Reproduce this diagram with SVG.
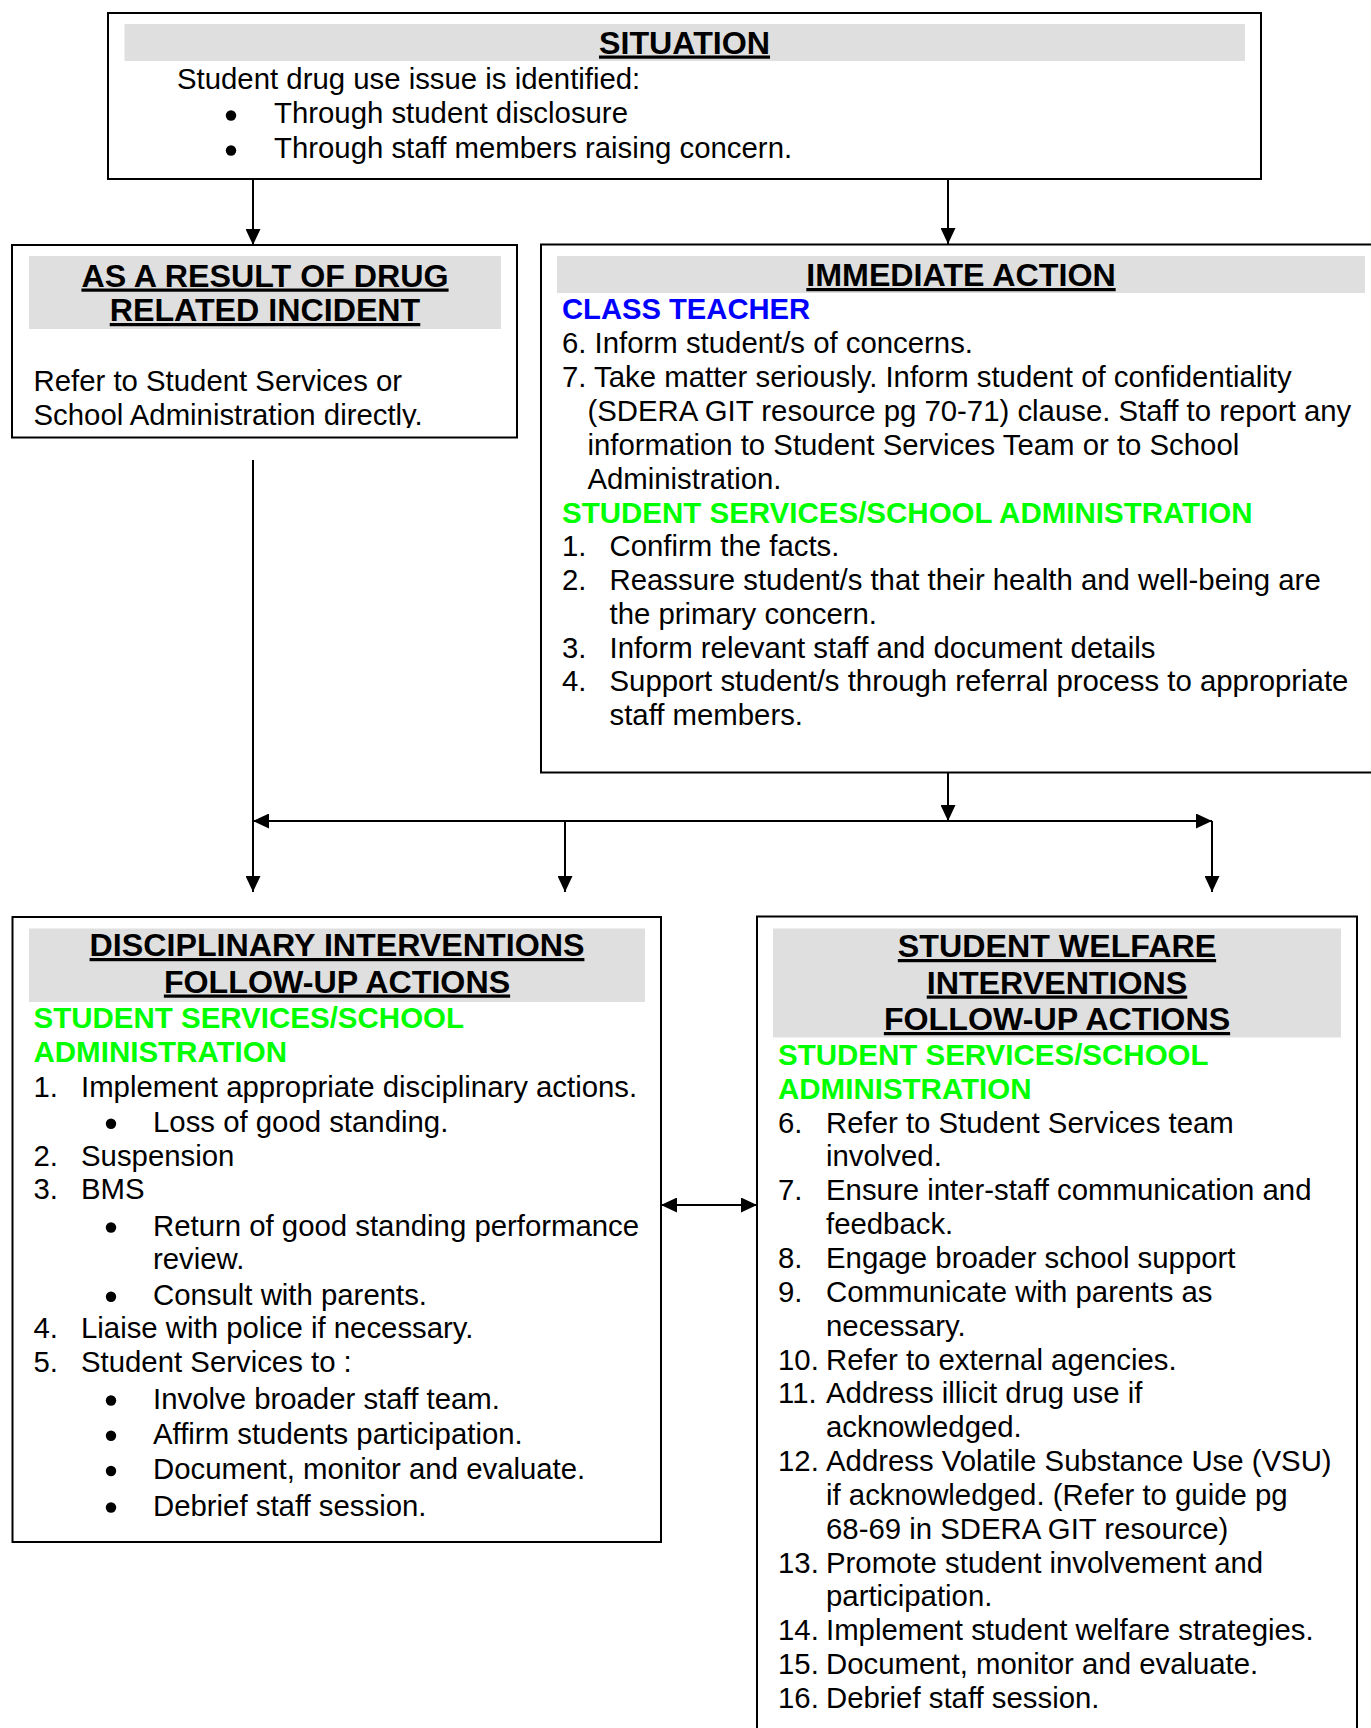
<svg xmlns="http://www.w3.org/2000/svg" width="1371" height="1728" viewBox="0 0 1371 1728">
<style>
.box{fill:#fff;stroke:#000;stroke-width:2}
.bar{fill:#DFDFDF}
text{font-family:"Liberation Sans",Arial,Helvetica,sans-serif;font-size:29.35px;fill:#000}
.h{font-weight:bold;font-size:32.2px;text-anchor:middle;text-decoration:underline}
.g{font-weight:bold;font-size:29.5px;fill:#00FF00}
.bl{font-weight:bold;font-size:29.2px;fill:#0000FF}
.dot{fill:#000}
.conn{stroke:#000;stroke-width:2;fill:none}
</style>
<defs>
<marker id="ah" markerUnits="userSpaceOnUse" markerWidth="16" markerHeight="15" refX="16" refY="7.5" orient="auto-start-reverse">
<path d="M0,0 L16,7.5 L0,15 z" fill="#000"/>
</marker>
<clipPath id="clipA"><rect x="12" y="244" width="505" height="184"/></clipPath>
</defs>
<rect width="1371" height="1728" fill="#fff"/>

<g id="connectors">
<path class="conn" d="M253,172 V245" marker-end="url(#ah)"/>
<path class="conn" d="M948,172 V244" marker-end="url(#ah)"/>
<path class="conn" d="M948,773 V821" marker-end="url(#ah)"/>
<path class="conn" d="M948,821 H253" marker-end="url(#ah)"/>
<path class="conn" d="M948,821 H1212" marker-end="url(#ah)"/>
<path class="conn" d="M1212,821 V892" marker-end="url(#ah)"/>
<path class="conn" d="M565,821 V892" marker-end="url(#ah)"/>
<path class="conn" d="M253,460 V892" marker-end="url(#ah)"/>
<path class="conn" d="M661,1205 H757" marker-start="url(#ah)" marker-end="url(#ah)"/>
</g>

<g id="situation">
<rect class="box" x="108" y="13" width="1153" height="166"/>
<rect class="bar" x="124.5" y="24" width="1120.5" height="37"/>
<text class="h" x="684.5" y="53.5">SITUATION</text>
<text x="177" y="88.5">Student drug use issue is identified:</text>
<circle class="dot" cx="231" cy="115.5" r="5.2"/>
<text x="274" y="123">Through student disclosure</text>
<circle class="dot" cx="231" cy="150.5" r="5.2"/>
<text x="274" y="158">Through staff members raising concern.</text>
</g>

<g id="drug-incident">
<rect class="box" x="12" y="245" width="505" height="192.5"/>
<rect class="bar" x="29" y="256" width="472" height="73"/>
<text class="h" x="265" y="286.5">AS A RESULT OF DRUG</text>
<text class="h" x="265" y="321">RELATED INCIDENT</text>
<g clip-path="url(#clipA)">
<text x="33.5" y="390.5">Refer to Student Services or</text>
<text x="33.5" y="424.5">School Administration directly.</text>
</g>
</g>

<g id="immediate-action">
<rect class="box" x="541" y="244.5" width="850" height="528"/>
<rect class="bar" x="557" y="256" width="808" height="37"/>
<text class="h" x="961" y="286">IMMEDIATE ACTION</text>
<text class="bl" x="562" y="318.5">CLASS TEACHER</text>
<text x="562" y="353">6. Inform student/s of concerns.</text>
<text x="562" y="387">7. Take matter seriously. Inform student of confidentiality</text>
<text x="587.4" y="421">(SDERA GIT resource pg 70-71) clause. Staff to report any</text>
<text x="587.4" y="455">information to Student Services Team or to School</text>
<text x="587.4" y="489">Administration.</text>
<text class="g" x="562" y="522.7">STUDENT SERVICES/SCHOOL ADMINISTRATION</text>
<text y="556.4"><tspan x="562">1.</tspan><tspan x="609.5">Confirm the facts.</tspan></text>
<text y="590.1"><tspan x="562">2.</tspan><tspan x="609.5">Reassure student/s that their health and well-being are</tspan></text>
<text x="609.5" y="623.8">the primary concern.</text>
<text y="657.5"><tspan x="562">3.</tspan><tspan x="609.5">Inform relevant staff and document details</tspan></text>
<text y="691.2"><tspan x="562">4.</tspan><tspan x="609.5">Support student/s through referral process to appropriate</tspan></text>
<text x="609.5" y="724.9">staff members.</text>
</g>

<g id="disciplinary">
<rect class="box" x="12.5" y="917" width="648.5" height="625"/>
<rect class="bar" x="29" y="928.5" width="616" height="73.5"/>
<text class="h" x="337" y="956">DISCIPLINARY INTERVENTIONS</text>
<text class="h" x="337" y="992.5">FOLLOW-UP ACTIONS</text>
<text class="g" x="33.5" y="1028">STUDENT SERVICES/SCHOOL</text>
<text class="g" x="33.5" y="1061.5">ADMINISTRATION</text>
<text y="1096.5"><tspan x="33.5">1.</tspan><tspan x="81">Implement appropriate disciplinary actions.</tspan></text>
<circle class="dot" cx="111" cy="1123.8" r="5.2"/>
<text x="153" y="1131.8">Loss of good standing.</text>
<text y="1165.8"><tspan x="33.5">2.</tspan><tspan x="81">Suspension</tspan></text>
<text y="1198.8"><tspan x="33.5">3.</tspan><tspan x="81">BMS</tspan></text>
<circle class="dot" cx="111" cy="1227.5" r="5.2"/>
<text x="153" y="1235.5">Return of good standing performance</text>
<text x="153" y="1268.5">review.</text>
<circle class="dot" cx="111" cy="1296.8" r="5.2"/>
<text x="153" y="1304.8">Consult with parents.</text>
<text y="1338"><tspan x="33.5">4.</tspan><tspan x="81">Liaise with police if necessary.</tspan></text>
<text y="1372"><tspan x="33.5">5.</tspan><tspan x="81">Student Services to :</tspan></text>
<circle class="dot" cx="111" cy="1400.5" r="5.2"/>
<text x="153" y="1408.5">Involve broader staff team.</text>
<circle class="dot" cx="111" cy="1435.8" r="5.2"/>
<text x="153" y="1443.8">Affirm students participation.</text>
<circle class="dot" cx="111" cy="1471" r="5.2"/>
<text x="153" y="1479">Document, monitor and evaluate.</text>
<circle class="dot" cx="111" cy="1507.5" r="5.2"/>
<text x="153" y="1515.5">Debrief staff session.</text>
</g>

<g id="welfare">
<rect class="box" x="757" y="916.5" width="600" height="830"/>
<rect class="bar" x="773" y="928.5" width="568" height="109"/>
<text class="h" x="1057" y="957">STUDENT WELFARE</text>
<text class="h" x="1057" y="993.5">INTERVENTIONS</text>
<text class="h" x="1057" y="1030">FOLLOW-UP ACTIONS</text>
<text class="g" x="778" y="1065">STUDENT SERVICES/SCHOOL</text>
<text class="g" x="778" y="1098.5">ADMINISTRATION</text>
<text y="1132.5"><tspan x="778">6.</tspan><tspan x="826">Refer to Student Services team</tspan></text>
<text x="826" y="1166.4">involved.</text>
<text y="1200.2"><tspan x="778">7.</tspan><tspan x="826">Ensure inter-staff communication and</tspan></text>
<text x="826" y="1234.1">feedback.</text>
<text y="1267.9"><tspan x="778">8.</tspan><tspan x="826">Engage broader school support</tspan></text>
<text y="1301.8"><tspan x="778">9.</tspan><tspan x="826">Communicate with parents as</tspan></text>
<text x="826" y="1335.6">necessary.</text>
<text y="1369.5"><tspan x="778">10.</tspan><tspan x="826">Refer to external agencies.</tspan></text>
<text y="1403.3"><tspan x="778">11.</tspan><tspan x="826">Address illicit drug use if</tspan></text>
<text x="826" y="1437.2">acknowledged.</text>
<text y="1471"><tspan x="778">12.</tspan><tspan x="826">Address Volatile Substance Use (VSU)</tspan></text>
<text x="826" y="1504.9">if acknowledged. (Refer to guide pg</text>
<text x="826" y="1538.7">68-69 in SDERA GIT resource)</text>
<text y="1572.6"><tspan x="778">13.</tspan><tspan x="826">Promote student involvement and</tspan></text>
<text x="826" y="1606.4">participation.</text>
<text y="1640.3"><tspan x="778">14.</tspan><tspan x="826">Implement student welfare strategies.</tspan></text>
<text y="1674.1"><tspan x="778">15.</tspan><tspan x="826">Document, monitor and evaluate.</tspan></text>
<text y="1708"><tspan x="778">16.</tspan><tspan x="826">Debrief staff session.</tspan></text>
</g>
</svg>
